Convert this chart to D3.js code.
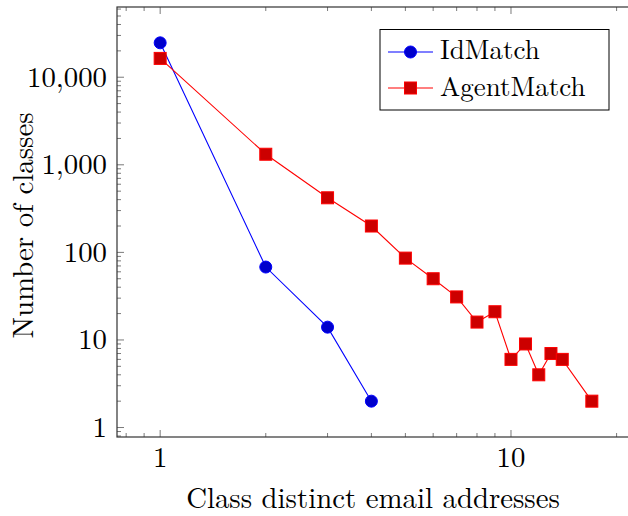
<!DOCTYPE html>
<html>
<head>
<meta charset="utf-8">
<script src="https://cdn.jsdelivr.net/npm/d3@7"></script>
<style>
  html, body { margin: 0; padding: 0; background: #fff; }
  svg { display: block; }
</style>
</head>
<body>
<svg id="chart" width="628" height="516"></svg>
<script>
// ---- data ----
const idX = [1, 2, 3, 4];
const idY = [24700, 68, 14, 2];
const agentX = [1, 2, 3, 4, 5, 6, 7, 8, 9, 10, 11, 12, 13, 14, 17];
const agentY = [16400, 1320, 420, 200, 86, 50, 31, 16, 21, 6, 9, 4, 7, 6, 2];
const seriesNames = ["IdMatch", "AgentMatch"];
const xTickValues = [1, 10];
const xTickLabels = ["1", "10"];
const yTickValues = [1, 10, 100, 1000, 10000];
const yTickLabels = ["1", "10", "100", "1,000", "10,000"];
const xTitle = "Class distinct email addresses";
const yTitle = "Number of classes";

// ---- layout ----
const FONT = '"Latin Modern Roman", "Liberation Serif", serif';
const FS = 28.8;
const svg = d3.select("#chart");
const L = 117, R = 635, T = 7, B = 437;

const allX = idX.concat(agentX), allY = idY.concat(agentY);
function enlarged(vals) {
  const lo = Math.log10(d3.min(vals)), hi = Math.log10(d3.max(vals));
  const e = (hi - lo) * 0.1;
  return [Math.pow(10, lo - e), Math.pow(10, hi + e)];
}
const x = d3.scaleLog().domain(enlarged(allX)).range([L, R]);
const y = d3.scaleLog().domain(enlarged(allY)).range([B, T]);

function minorTicks(dom) {
  const out = [];
  for (let e = -2; e <= 6; e++) {
    for (let m = 1; m <= 9; m++) {
      const v = m * Math.pow(10, e);
      if (v >= dom[0] && v <= dom[1]) out.push(v);
    }
  }
  return out;
}
const xMinor = minorTicks(x.domain()).filter(v => !xTickValues.includes(v));
const yMinor = minorTicks(y.domain()).filter(v => !yTickValues.includes(v));

const tickColor = "#7a7a7a";
const majLen = 7, minLen = 4;
const g = svg.append("g");

function drawXTicks(vals, len) {
  g.selectAll(null).data(vals).enter().append("line")
    .attr("x1", d => x(d)).attr("x2", d => x(d))
    .attr("y1", B).attr("y2", B - len)
    .attr("stroke", tickColor).attr("stroke-width", 1);
  g.selectAll(null).data(vals).enter().append("line")
    .attr("x1", d => x(d)).attr("x2", d => x(d))
    .attr("y1", T).attr("y2", T + len)
    .attr("stroke", tickColor).attr("stroke-width", 1);
}
function drawYTicks(vals, len) {
  g.selectAll(null).data(vals).enter().append("line")
    .attr("x1", L).attr("x2", L + len)
    .attr("y1", d => y(d)).attr("y2", d => y(d))
    .attr("stroke", tickColor).attr("stroke-width", 1);
  g.selectAll(null).data(vals).enter().append("line")
    .attr("x1", R).attr("x2", R - len)
    .attr("y1", d => y(d)).attr("y2", d => y(d))
    .attr("stroke", tickColor).attr("stroke-width", 1);
}
drawXTicks(xMinor, minLen);
drawXTicks(xTickValues, majLen);
drawYTicks(yMinor, minLen);
drawYTicks(yTickValues, majLen);

g.append("rect").attr("x", L).attr("y", T).attr("width", R - L).attr("height", B - T)
  .attr("fill", "none").attr("stroke", "#333").attr("stroke-width", 1.2);

function txt(sel, size) {
  return sel.style("font-family", FONT).attr("font-size", size || FS).attr("fill", "#000");
}

txt(g.selectAll(null).data(xTickValues).enter().append("text"))
  .attr("x", d => x(d)).attr("y", 467)
  .attr("text-anchor", "middle")
  .text((d, i) => xTickLabels[i]);
txt(g.selectAll(null).data(yTickValues).enter().append("text"))
  .attr("x", 107).attr("y", d => y(d) + 9.5)
  .attr("text-anchor", "end")
  .text((d, i) => yTickLabels[i]);

txt(svg.append("text")).attr("x", 373).attr("y", 508)
  .attr("text-anchor", "middle").text(xTitle);
txt(svg.append("text")).attr("transform", "translate(33,225.5) rotate(-90)")
  .attr("text-anchor", "middle").text(yTitle);

const line = d3.line().x(d => x(d[0])).y(d => y(d[1]));
const idData = idX.map((v, i) => [v, idY[i]]);
const agData = agentX.map((v, i) => [v, agentY[i]]);

g.append("path").datum(idData).attr("d", line)
  .attr("fill", "none").attr("stroke", "#0000ff").attr("stroke-width", 1.1);
g.append("path").datum(agData).attr("d", line)
  .attr("fill", "none").attr("stroke", "#ff0000").attr("stroke-width", 1.1);

const sq = 12;
g.selectAll(null).data(agData).enter().append("rect")
  .attr("x", d => x(d[0]) - sq / 2).attr("y", d => y(d[1]) - sq / 2)
  .attr("width", sq).attr("height", sq)
  .attr("fill", "#cc0000").attr("stroke", "#ff0000").attr("stroke-width", 1);
g.selectAll(null).data(idData).enter().append("circle")
  .attr("cx", d => x(d[0])).attr("cy", d => y(d[1])).attr("r", 6)
  .attr("fill", "#0000cc").attr("stroke", "#0000ff").attr("stroke-width", 1);

// legend
const lg = svg.append("g");
lg.append("rect").attr("x", 380).attr("y", 29.5).attr("width", 229).attr("height", 80.5)
  .attr("fill", "#fff").attr("stroke", "#000").attr("stroke-width", 1);
const legRows = [
  { name: seriesNames[0], color: "#0000ff", fill: "#0000cc", mark: "circle", ly: 52, ty: 59 },
  { name: seriesNames[1], color: "#ff0000", fill: "#cc0000", mark: "square", ly: 88, ty: 96 }
];
legRows.forEach(r => {
  lg.append("line").attr("x1", 388).attr("x2", 433).attr("y1", r.ly).attr("y2", r.ly)
    .attr("stroke", r.color).attr("stroke-width", 1.1);
  if (r.mark === "circle") {
    lg.append("circle").attr("cx", 410.5).attr("cy", r.ly).attr("r", 6)
      .attr("fill", r.fill).attr("stroke", r.color);
  } else {
    lg.append("rect").attr("x", 410.5 - sq / 2).attr("y", r.ly - sq / 2)
      .attr("width", sq).attr("height", sq).attr("fill", r.fill).attr("stroke", r.color);
  }
  txt(lg.append("text"), 27).attr("x", 440).attr("y", r.ty).text(r.name);
});
</script>
</body>
</html>
